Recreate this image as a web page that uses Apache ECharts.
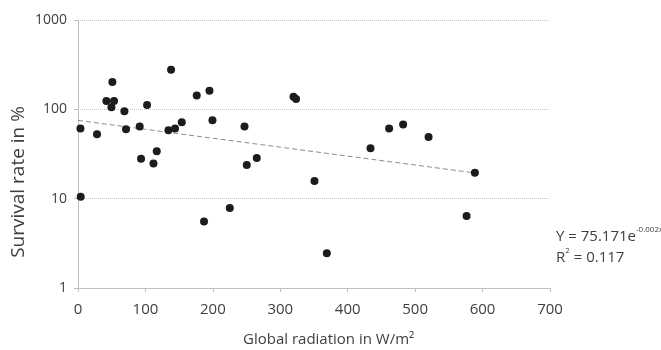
<!DOCTYPE html>
<html>
<head>
<meta charset="utf-8">
<script src="https://cdn.jsdelivr.net/npm/echarts@6/dist/echarts.min.js"></script>
<style>html,body{margin:0;padding:0;background:#fff;}#c{width:661px;height:350px;}</style>
</head>
<body>
<div id="c"></div>
<script>
var radiation = [3.6, 4.0, 28.2, 42.1, 51.0, 53.4, 49.6, 68.8, 71.2, 102.4, 91.5, 93.5, 111.9, 116.8, 134.1, 138, 143.9, 153.9, 176.1, 186.9, 195, 199.4, 225.1, 246.9, 250.3, 265.1, 319.6, 323.4, 350.7, 369, 433.8, 461.4, 482.2, 519.9, 576.3, 588.6];
var survival = [60.9, 10.5, 52.7, 123.6, 202, 123.6, 105.8, 95.4, 60, 111.5, 64.1, 28, 24.8, 34, 58.4, 277, 60.9, 71.8, 142.9, 5.56, 161.3, 75.6, 7.84, 64.1, 23.8, 28.6, 138, 130.2, 15.8, 2.45, 36.7, 60.9, 67.5, 49.1, 6.38, 19.5];
var xTicks = [0, 100, 200, 300, 400, 500, 600, 700];
var yTicks = [1, 10, 100, 1000];
var trendA = 75.171, trendB = 0.0023;
var trendX = [0, 100, 200, 300, 400, 500, 588.6];

var pts = radiation.map(function (x, i) { return [x, survival[i]]; });
var trend = trendX.map(function (x) { return [x, trendA * Math.exp(-trendB * x)]; });

var font = '"Open Sans", sans-serif';
var txt = '#404040';
var chart = echarts.init(document.getElementById('c'), null, {renderer: 'canvas'});
chart.setOption({
  animation: false,
  grid: {left: 78, right: 111, top: 20, bottom: 62, containLabel: false},
  xAxis: {
    type: 'value', min: xTicks[0], max: xTicks[xTicks.length - 1], interval: 100,
    axisLine: {show: true, lineStyle: {color: '#bfbfbf', width: 1}},
    axisTick: {show: true, length: 4, lineStyle: {color: '#bfbfbf'}},
    axisLabel: {color: txt, fontFamily: font, fontSize: 15, margin: 14},
    splitLine: {show: false}
  },
  yAxis: {
    type: 'log', logBase: 10, min: yTicks[0], max: yTicks[yTicks.length - 1],
    axisLine: {show: true, lineStyle: {color: '#bfbfbf', width: 1}},
    axisTick: {show: true, length: 4, lineStyle: {color: '#bfbfbf'}},
    axisLabel: {color: txt, fontFamily: font, fontSize: 14, margin: 11,
      formatter: function (v) { return String(Math.round(v)); }},
    splitLine: {show: true, lineStyle: {color: '#c8c8c8', type: [1, 1], width: 1}},
    minorTick: {show: false}
  },
  series: [
    {
      type: 'line', data: trend, symbol: 'none', silent: true,
      lineStyle: {color: '#8c8c8c', width: 1, type: [5, 3]}, z: 1
    },
    {
      type: 'scatter', data: pts, symbol: 'circle', symbolSize: 8,
      itemStyle: {color: '#1c1c1c', opacity: 1}, z: 3
    }
  ],
  graphic: [
    {type: 'text', left: 243, top: 332, style: {text: 'Global radiation in W/m²', fill: txt, font: '15px ' + font}},
    {type: 'text', x: 19, y: 182, rotation: Math.PI / 2, style: {text: 'Survival rate in %', fill: txt, font: '19px ' + font, align: 'center', verticalAlign: 'middle'}},
    {type: 'text', left: 556, top: 226, style: {
      rich: {
        a: {fill: txt, font: '15px ' + font},
        s: {fill: txt, font: '8px ' + font, verticalAlign: 'top', padding: [0, 0, 10, 0]}
      },
      text: '{a|Y = 75.171e}{s|-0.002x}\n{a|R}{s|2}{a| = 0.117}', lineHeight: 21
    }}
  ]
});
</script>
</body>
</html>
